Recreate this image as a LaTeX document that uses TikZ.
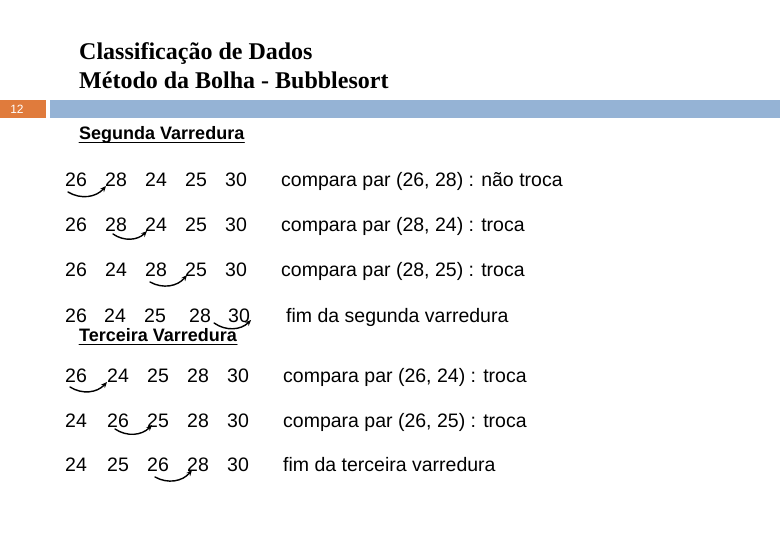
\documentclass[tikz,border=0pt]{standalone}
\usepackage{fontspec}
\setmainfont{Liberation Sans}
\newfontfamily\titlefont{Liberation Serif}
\usetikzlibrary{positioning,arrows.meta}
\definecolor{barblue}{HTML}{95B3D5}
\definecolor{barorange}{HTML}{E07B3C}
\tikzset{
  num/.style={anchor=base west,inner sep=0pt,font=\fontsize{19.5}{22}\selectfont},
  fala/.style={anchor=base west,inner sep=0pt,font=\fontsize{19.5}{22}\selectfont},
  titulo/.style={anchor=base west,inner sep=0pt,font=\titlefont\bfseries\fontsize{24}{28}\selectfont},
  varre/.style={anchor=base west,inner sep=0pt,font=\bfseries\fontsize{18}{21}\selectfont},
  troca/.style={->,line width=1.4pt,bend right=40},
}
\begin{document}
\begin{tikzpicture}[>={Stealth[length=6pt,width=5pt]},line join=round,line cap=round,x=1pt,y=-1pt]
	\useasboundingbox (0,0) rectangle (780,540);
	% cabecalho
	\node[titulo] (tit1) at (79,60) {Classificação de Dados};
	\node[titulo] (tit2) at (79,89) {Método da Bolha - Bubblesort};
	\fill[barorange] (0,100) rectangle (46,118);
	\fill[barblue] (50,100) rectangle (780,118);
	\node[text=white,font=\fontsize{12}{14}\selectfont] (pag) at (17,109) {12};
	% varreduras
	\node[varre] (seg) at (79,140) {Segunda Varredura};
	\draw[line width=1pt] ([yshift=-2.5]seg.base west) -- ([yshift=-2.5]seg.base east);
	\node[varre] (ter) at (79,342) {Terceira Varredura};
	\draw[line width=1pt] ([yshift=-2.5]ter.base west) -- ([yshift=-2.5]ter.base east);
	\foreach \r/\y/\lista in {a/187/{65/26,105/28,145/24,185/25,225/30},
			b/232/{65/26,105/28,145/24,185/25,225/30},
			c/277/{65/26,105/24,145/28,185/25,225/30},
			d/323/{65/26,104/24,144/25,189/28,228/30},
			e/383/{65/26,107/24,147/25,187/28,227/30},
			f/427/{65/24,107/26,147/25,187/28,227/30},
			g/471/{65/24,107/25,147/26,187/28,227/30}}
		\foreach \x/\n [count=\i] in \lista
			\node[num] (\r\i) at (\x,\y) {\n};
	\node[fala] (ta) at (281,187) {compara par (26, 28) : não troca};
	\node[fala] (tb) at (281,232) {compara par (28, 24) : troca};
	\node[fala] (tc) at (281,277) {compara par (28, 25) : troca};
	\node[fala] (td) at (286,323) {fim da segunda varredura};
	\node[fala] (te) at (283,383) {compara par (26, 24) : troca};
	\node[fala] (tf) at (283,427) {compara par (26, 25) : troca};
	\node[fala] (tg) at (283,471) {fim da terceira varredura};
	% setas das comparacoes
	\draw[troca] ([shift={(3,5)}]a1.base west) to ([shift={(1,-1)}]a2.base west);
	\draw[troca] ([shift={(8,2)}]b2.base west) to ([shift={(2,-1)}]b3.base west);
	\draw[troca] ([shift={(5,5)}]c3.base west) to ([shift={(2,-2)}]c4.base west);
	\draw[troca] ([shift={(3,0)}]d4.base east) to ([shift={(1,-3)}]d5.base east);
	\draw[troca] ([shift={(5,4)}]e1.base west) to ([shift={(0,-1)}]e2.base west);
	\draw[troca] ([shift={(8,2)}]f2.base west) to ([shift={(5,-2)}]f3.base west);
	\draw[troca] ([shift={(8,6)}]g3.base west) to ([shift={(5,-1)}]g4.base west);
\end{tikzpicture}
\end{document}
